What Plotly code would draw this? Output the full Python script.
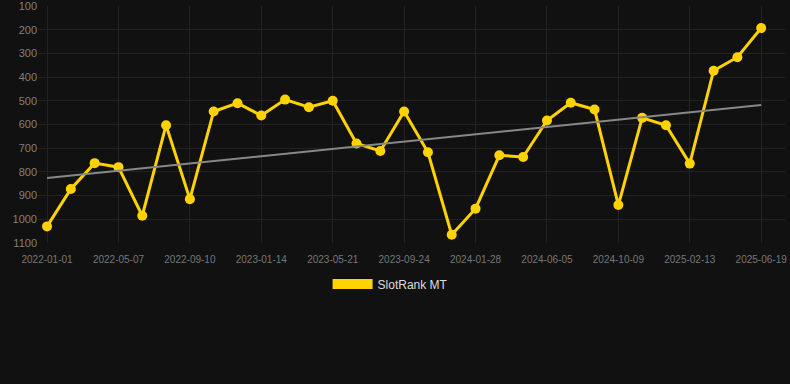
import plotly.graph_objects as go

dates = ["2022-01-01", "2022-02-12", "2022-03-26", "2022-05-07", "2022-06-18", "2022-07-30",
         "2022-09-10", "2022-10-22", "2022-12-03", "2023-01-14", "2023-02-25", "2023-04-08",
         "2023-05-21", "2023-07-02", "2023-08-13", "2023-09-24", "2023-11-05", "2023-12-17",
         "2024-01-28", "2024-03-10", "2024-04-22", "2024-06-05", "2024-07-17", "2024-08-28",
         "2024-10-09", "2024-11-20", "2025-01-01", "2025-02-13", "2025-03-27", "2025-05-08",
         "2025-06-19"]
rank = [1030, 872, 763, 780, 985, 603, 915, 545, 510, 562, 495, 527, 500, 680, 712, 545,
        717, 1065, 955, 730, 737, 583, 508, 537, 940, 572, 603, 765, 373, 316, 193]
trend_dates = ["2022-01-01", "2025-06-19"]
trend_values = [826, 518]
tick_labels = dates[::3]
y_ticks = [100, 200, 300, 400, 500, 600, 700, 800, 900, 1000, 1100]

GOLD = "#FFD200"

fig = go.Figure()
fig.add_trace(go.Scatter(x=dates, y=rank, mode="lines+markers",
                         line=dict(color=GOLD, width=3),
                         marker=dict(color=GOLD, size=10),
                         showlegend=False, hoverinfo="x+y"))
fig.add_trace(go.Scatter(x=trend_dates, y=trend_values, mode="lines",
                         line=dict(color="#888888", width=2),
                         showlegend=False, hoverinfo="skip"))
fig.add_trace(go.Scatter(x=[dates[0]], y=[None], mode="lines", name="SlotRank MT",
                         line=dict(color=GOLD, width=12), hoverinfo="skip"))

fig.update_layout(
    width=790, height=384,
    template="none",
    paper_bgcolor="#111111", plot_bgcolor="#111111",
    margin=dict(l=38, r=5, t=6, b=141, autoexpand=False),
    font=dict(family="Liberation Sans, Arial, sans-serif"),
    legend=dict(orientation="h", x=0.472, xanchor="center", itemwidth=40,
                y=-0.173, yanchor="middle", font=dict(color="#dddddd", size=12),
                bgcolor="rgba(0,0,0,0)"),
)
fig.update_xaxes(type="category", categoryorder="array", categoryarray=dates,
                 range=[-0.38, 31.0], tickmode="array", tickvals=tick_labels,
                 ticktext=tick_labels, showgrid=True, gridcolor="#222222", gridwidth=1,
                 tickfont=dict(color="#777777", size=10), zeroline=False,
                 showline=False, ticks="", tickangle=0, automargin=False,
                 ticklabelstandoff=9, ticklabeloverflow="allow")
fig.update_yaxes(range=[1100, 100], tickmode="array", tickvals=y_ticks,
                 showgrid=True, gridcolor="#222222", gridwidth=1,
                 tickfont=dict(color="#808080", size=11), zeroline=False,
                 showline=False, ticks="", automargin=False,
                 ticklabeloverflow="allow")

fig.write_html("out.html", config={"displayModeBar": False},
               post_script="document.body.style.margin='0';")
